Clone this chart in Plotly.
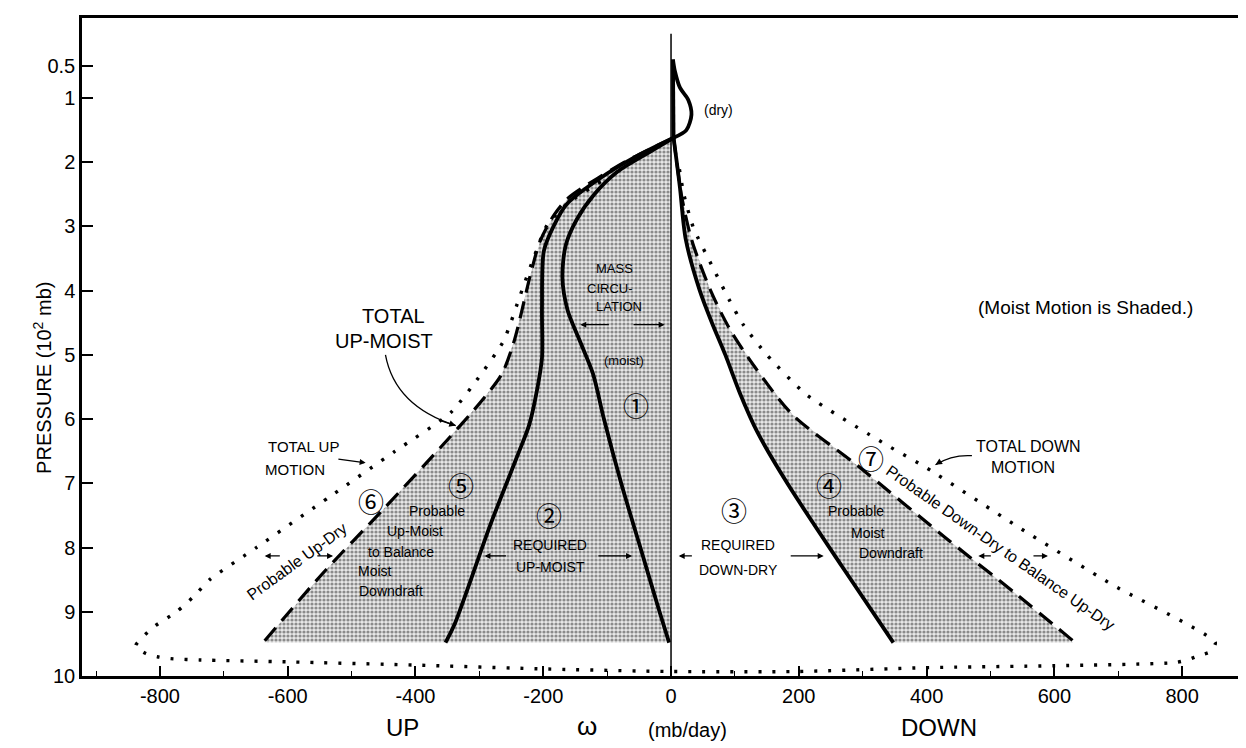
import plotly.graph_objects as go

# ---------------- data (omega in mb/day, pressure in 10^2 mb) ----------------
zero_p = [0.0, 10.0]
zero_w = [0, 0]

# (1) mass circulation curve (moist part), bottom -> junction
mass_p = [9.48, 9.0, 8.0, 7.0, 6.0, 5.3, 4.8, 4.3, 3.8, 3.3, 2.9, 2.5, 2.15, 1.85, 1.62]
mass_w = [-3, -18, -48, -78, -105, -122, -142, -162, -170, -165, -148, -120, -84, -35, 4]

# dry loop above the junction
dry_bulge_p = [1.62, 1.50, 1.26, 1.03, 0.84, 0.58, 0.40]
dry_bulge_w = [4, 24, 32, 27, 14, 6, 3]
dry_stem_p = [0.40, 1.62]
dry_stem_w = [3, 4]

# (2) required up-moist boundary (left solid)
requp_p = [9.48, 9.2, 7.65, 6.56, 6.09, 5.56, 5.05, 4.27, 3.38, 2.98, 2.65, 2.25, 1.93, 1.62]
requp_w = [-353, -339, -283, -240, -222, -210, -202, -202, -199, -183, -163, -111, -58, 4]

# (3)/(4) required down-dry boundary (right solid)
reqdn_p = [1.62, 2.0, 2.4, 3.2, 4.0, 4.5, 5.0, 5.6, 6.2, 7.0, 8.3, 9.48]
reqdn_w = [4, 9, 14, 23, 45, 64, 85, 108, 135, 182, 268, 348]

# total up-moist (left dashed), bottom -> junction
upmoist_p = [9.45, 8.4, 7.4, 6.4, 5.7, 5.3, 4.8, 3.75, 3.23, 2.82, 2.55, 2.25, 1.93, 1.62]
upmoist_w = [-636, -545, -450, -357, -295, -265, -246, -220, -205, -183, -160, -115, -60, 4]

# probable down-dry boundary (right dashed), junction -> bottom
dndry_p = [1.62, 2.0, 2.5, 3.2, 4.0, 4.6, 5.2, 5.93, 6.71, 7.85, 8.73, 9.45]
dndry_w = [4, 9, 16, 32, 62, 92, 132, 190, 290, 430, 541, 629]

# total motion envelope (dotted): left side, bottom, right side
totup_p = [2.3, 2.63, 2.98, 3.49, 4.07, 4.78, 5.31, 5.9, 6.5, 7.2, 8.0, 8.5, 8.75, 9.0, 9.23, 9.53]
totup_w = [-110, -160, -194, -215, -236, -262, -298, -345, -432, -533, -649, -722, -746, -774, -809, -838]
totbot_p = [9.65, 9.70, 9.73, 9.75, 9.78, 9.83, 9.89, 9.93, 9.93, 9.87, 9.84, 9.79, 9.74, 9.68, 9.62]
totbot_w = [-822, -804, -783, -738, -600, -400, -200, 0, 200, 400, 600, 790, 811, 827, 844]
totdn_p = [9.48, 8.58, 7.69, 6.76, 6.4, 5.62, 5.0, 4.53, 4.16, 3.65, 3.02, 2.5, 2.04]
totdn_w = [852, 691, 545, 400, 337, 212, 150, 113, 92, 66, 35, 20, 12]

shade_bottom_p = 9.48

x_tickvals = [-800, -600, -400, -200, 0, 200, 400, 600, 800]
x_ticktext = ["-800", "-600", "-400", "-200", "0", "200", "400", "600", "800"]
y_tickvals = [0.5, 1, 2, 3, 4, 5, 6, 7, 8, 9, 10]
y_ticktext = ["0.5", "1", "2", "3", "4", "5", "6", "7", "8", "9", "10"]

# text labels: (text, omega, pressure, size)
labels = [
    ("(dry)", 74, 1.19, 14),
    ("(Moist Motion is Shaded.)", 648, 4.27, 19),
    ("MASS", -89, 3.66, 13),
    ("CIRCU-", -95, 3.96, 13),
    ("LATION", -82, 4.25, 13),
    ("(moist)", -74, 5.08, 13),
    ("TOTAL", -435, 4.40, 20),
    ("UP-MOIST", -450, 4.78, 20),
    ("TOTAL UP", -575, 6.42, 15),
    ("MOTION", -588, 6.79, 15),
    ("Probable", -366, 7.43, 14),
    ("Up-Moist", -401, 7.74, 14),
    ("to Balance", -423, 8.07, 14),
    ("Moist", -464, 8.36, 14),
    ("Downdraft", -438, 8.67, 14),
    ("REQUIRED", -189, 7.96, 14),
    ("UP-MOIST", -189, 8.31, 14),
    ("REQUIRED", 105, 7.96, 14),
    ("DOWN-DRY", 105, 8.35, 14),
    ("Probable", 290, 7.43, 14),
    ("Moist", 309, 7.77, 14),
    ("Downdraft", 345, 8.08, 14),
    ("TOTAL DOWN", 559, 6.42, 16),
    ("MOTION", 551, 6.76, 16),
]
circled = [("①", -55, 5.78), ("②", -191, 7.49), ("③", 98, 7.41), ("④", 248, 7.02),
           ("⑤", -329, 7.02), ("⑥", -469, 7.26), ("⑦", 313, 6.60)]
rotated = [("Probable Up-Dry", -586, 8.21, -36),
           ("Probable Down-Dry to Balance Up-Dry", 515, 8.0, 35)]
# straight arrows: (tail omega, tail p, head omega, head p)
arrows = [
    (-95, 4.53, -142, 4.53), (-61, 4.53, -10, 4.53),
    (-256, 8.13, -292, 8.13), (-116, 8.13, -61, 8.13),
    (35, 8.13, 12, 8.13), (185, 8.13, 239, 8.13),
    (-610, 8.13, -636, 8.13), (-556, 8.13, -529, 8.13),
    (503, 8.13, 481, 8.13), (565, 8.13, 590, 8.13),
    (-523, 6.62, -478, 6.68),
]
# curved arrows: (start, control, end) as (omega, p)
curved = [((-447, 5.0), (-432, 5.8), (-337, 6.1)),
          ((471, 6.57), (440, 6.55), (414, 6.71))]

FONT = "Liberation Sans"

fig = go.Figure()

# shading (moist motion)
left_shade_w = upmoist_w + [0, 0, upmoist_w[0]]
left_shade_p = upmoist_p + [upmoist_p[-1], shade_bottom_p, shade_bottom_p]
right_shade_w = reqdn_w + list(reversed(dndry_w))
right_shade_p = reqdn_p[:-1] + [shade_bottom_p, shade_bottom_p] + list(reversed(dndry_p))[1:]
pattern = dict(shape=".", fgcolor="#2e2e2e", bgcolor="#e8e8e8", size=4, solidity=0.5)
for sw, sp in [(left_shade_w, left_shade_p), (right_shade_w, right_shade_p)]:
    fig.add_trace(go.Scatter(x=sw, y=sp, mode="lines", fill="toself",
                             fillpattern=pattern, fillcolor="#e0e0e0",
                             line=dict(width=0), hoverinfo="skip"))

# zero line
fig.add_trace(go.Scatter(x=zero_w, y=zero_p, mode="lines", line=dict(color="black", width=1.5)))

thick = dict(color="black", width=3.8, shape="spline", smoothing=0.8)
for w, p in [(mass_w, mass_p), (requp_w, requp_p), (reqdn_w, reqdn_p),
             (dry_bulge_w, dry_bulge_p)]:
    fig.add_trace(go.Scatter(x=w, y=p, mode="lines", line=thick))
fig.add_trace(go.Scatter(x=dry_stem_w, y=dry_stem_p, mode="lines",
                         line=dict(color="black", width=3.8)))

dashed = dict(color="black", width=3.2, dash="17px,9px", shape="spline", smoothing=0.8)
for w, p in [(upmoist_w, upmoist_p), (dndry_w, dndry_p)]:
    fig.add_trace(go.Scatter(x=w, y=p, mode="lines", line=dashed))

env_w = totup_w + totbot_w + totdn_w
env_p = totup_p + totbot_p + totdn_p
fig.add_trace(go.Scatter(x=env_w, y=env_p, mode="lines",
                         line=dict(color="black", width=3.4, dash="3px,11px",
                                   shape="spline", smoothing=0.6)))

for t, w, p, s in labels:
    fig.add_annotation(x=w, y=p, text=t, showarrow=False,
                       font=dict(family=FONT, size=s, color="black"))
for t, w, p in circled:
    fig.add_annotation(x=w, y=p, text=t, showarrow=False,
                       font=dict(family="Noto Sans CJK JP", size=26, color="black"))
for t, w, p, a in rotated:
    fig.add_annotation(x=w, y=p, text=t, showarrow=False, textangle=a,
                       font=dict(family=FONT, size=16, color="black"))
for tw, tp, hw, hp in arrows:
    fig.add_annotation(x=hw, y=hp, ax=tw, ay=tp, axref="x", ayref="y", xref="x", yref="y",
                       text="", showarrow=True, arrowhead=2, arrowsize=1, arrowwidth=1.2,
                       arrowcolor="black")
for (s, c, e) in curved:
    fig.add_shape(type="path", xref="x", yref="y",
                  path=f"M {s[0]},{s[1]} Q {c[0]},{c[1]} {e[0]},{e[1]}",
                  line=dict(color="black", width=1.3))
    fig.add_annotation(x=e[0], y=e[1], ax=e[0] - (e[0] - c[0]) * 0.25,
                       ay=e[1] - (e[1] - c[1]) * 0.25, axref="x", ayref="y",
                       text="", showarrow=True, arrowhead=2, arrowsize=1,
                       arrowwidth=1.3, arrowcolor="black")

# axis titles
fig.add_annotation(xref="paper", yref="paper", x=-0.046, y=0.453,
                   text="PRESSURE (10<sup>2</sup> mb)", textangle=-90, showarrow=False,
                   font=dict(family=FONT, size=20, color="black"))
for t, w, s in [("UP", -420, 24), ("ω", -131, 26), ("(mb/day)", 25, 20), ("DOWN", 419, 24)]:
    fig.add_annotation(xref="x", yref="paper", x=w, y=-0.102, text=t, showarrow=False,
                       font=dict(family=FONT, size=s, color="black"))

fig.update_xaxes(range=[-922, 900], tickvals=x_tickvals, ticktext=x_ticktext,
                 ticks="inside", ticklen=10, tickwidth=1.5, tickcolor="black",
                 minor=dict(dtick=100, ticks="inside", ticklen=5, tickwidth=1.2, tickcolor="black"),
                 showline=True, linecolor="black", linewidth=2.5, mirror=True,
                 showgrid=False, zeroline=False,
                 tickfont=dict(family=FONT, size=20, color="black"))
fig.update_yaxes(range=[10, -0.245], tickvals=y_tickvals, ticktext=y_ticktext,
                 ticks="inside", ticklen=11, tickwidth=1.5, tickcolor="black",
                 showline=True, linecolor="black", linewidth=2.5, mirror=True,
                 showgrid=False, zeroline=False,
                 tickfont=dict(family=FONT, size=20, color="black"))
fig.update_layout(width=1246, height=748, margin=dict(l=74, r=5, t=10, b=80),
                  plot_bgcolor="white", paper_bgcolor="white", showlegend=False)

fig.write_html("out.html")
